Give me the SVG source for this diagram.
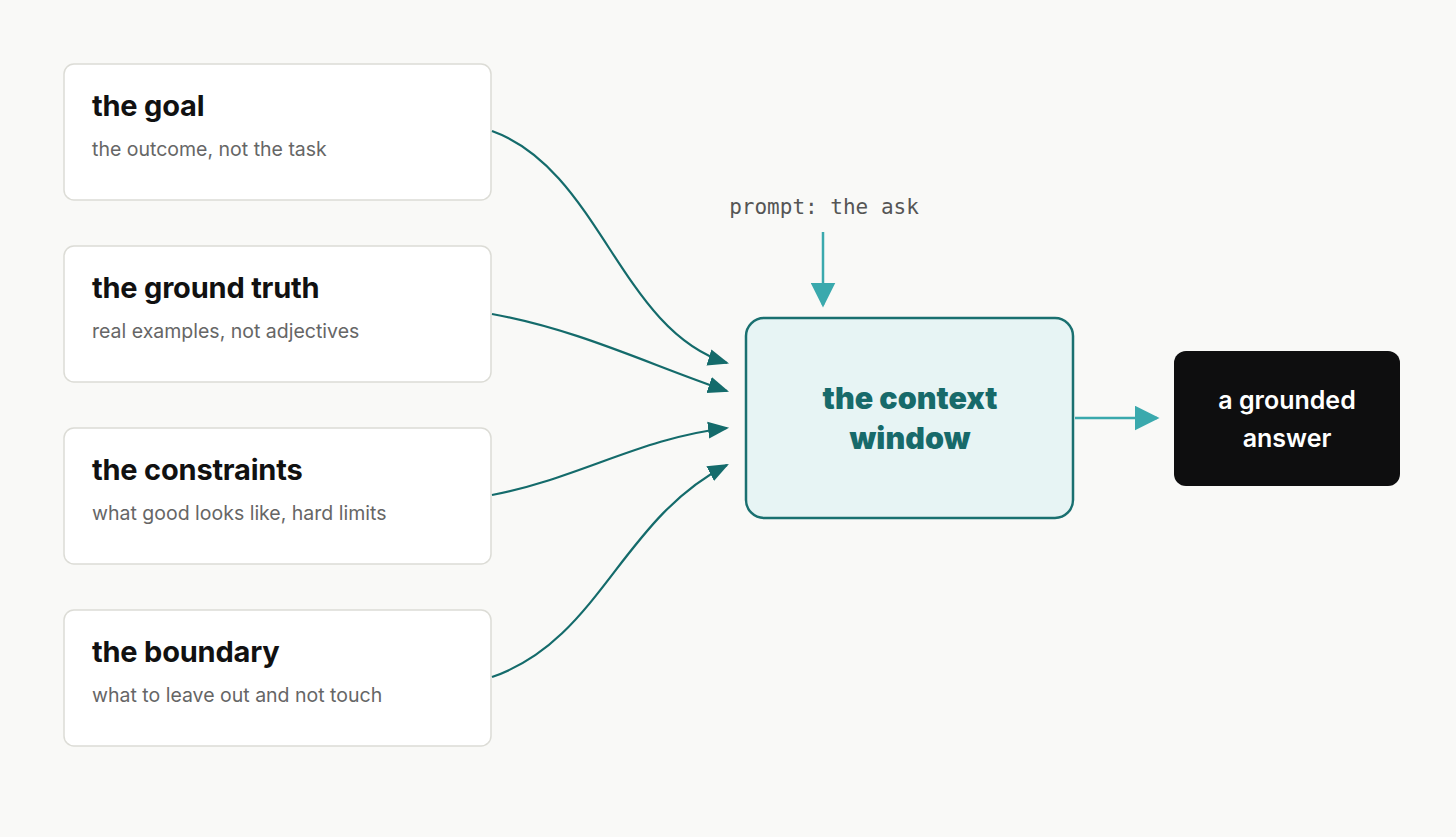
<svg xmlns="http://www.w3.org/2000/svg" width="1456" height="837" viewBox="0 0 1456 837">
<style>
.card{fill:#fff;stroke:#dcdcd6;stroke-width:1.5}
.t{font-family:Inter,"Liberation Sans",sans-serif;font-weight:700;font-size:29px;fill:#111;letter-spacing:-0.2px}
.s{font-family:Inter,"Liberation Sans",sans-serif;font-size:19.5px;fill:#666}
.c{fill:none;stroke:#146b6b;stroke-width:2.2}
</style>
<defs>
<marker id="b" viewBox="0 0 10 10" refX="9" refY="5" markerWidth="25" markerHeight="25" orient="auto" markerUnits="userSpaceOnUse"><path d="M0,0L10,5L0,10z" fill="#3aa9ad"/></marker>
<marker id="a2" viewBox="0 0 10 10" refX="9" refY="5" markerWidth="21" markerHeight="21" orient="auto" markerUnits="userSpaceOnUse"><path d="M0,1L10,5L0,9z" fill="#146b6b"/></marker>
</defs>
<rect width="1456" height="837" fill="#f9f9f7"/>
<g id="goal"><rect class="card" x="64" y="64" width="427" height="136" rx="10"/><text class="t" x="92" y="116">the goal</text><text class="s" x="92" y="156">the outcome, not the task</text></g>
<g id="truth"><rect class="card" x="64" y="246" width="427" height="136" rx="10"/><text class="t" x="92" y="298">the ground truth</text><text class="s" x="92" y="338">real examples, not adjectives</text></g>
<g id="constraints"><rect class="card" x="64" y="428" width="427" height="136" rx="10"/><text class="t" x="92" y="480">the constraints</text><text class="s" x="92" y="520">what good looks like, hard limits</text></g>
<g id="boundary"><rect class="card" x="64" y="610" width="427" height="136" rx="10"/><text class="t" x="92" y="662">the boundary</text><text class="s" x="92" y="702">what to leave out and not touch</text></g>
<g id="prompt"><text x="824" y="214" text-anchor="middle" font-family="'DejaVu Sans Mono','Liberation Mono',monospace" font-size="21" fill="#555">prompt: the ask</text></g>
<g id="context"><rect x="746" y="318" width="327" height="200" rx="18" fill="#e7f4f4" stroke="#1a7070" stroke-width="2.5"/><text x="910" y="409" text-anchor="middle" font-family="Inter,'Liberation Sans',sans-serif" font-weight="900" font-size="30.5" fill="#176a6a">the context</text><text x="910" y="449" text-anchor="middle" font-family="Inter,'Liberation Sans',sans-serif" font-weight="900" font-size="30.5" fill="#176a6a">window</text></g>
<g id="answer"><rect x="1174" y="351" width="226" height="135" rx="12" fill="#0e0e0f"/><text x="1287" y="409" text-anchor="middle" font-family="Inter,'Liberation Sans',sans-serif" font-weight="600" font-size="25" fill="#fff">a grounded</text><text x="1287" y="447" text-anchor="middle" font-family="Inter,'Liberation Sans',sans-serif" font-weight="600" font-size="25" fill="#fff">answer</text></g>
<g id="connectors">
<path class="c" marker-end="url(#a2)" d="M492,131 C600,170 620,330 727,363"/>
<path class="c" marker-end="url(#a2)" d="M492,314 C580,330 650,365 727,391"/>
<path class="c" marker-end="url(#a2)" d="M492,495 C580,478 640,438 727,428"/>
<path class="c" marker-end="url(#a2)" d="M492,677 C600,640 620,520 727,465"/>
<path d="M823,232 L823,305" fill="none" stroke="#3aa9ad" stroke-width="2.5" marker-end="url(#b)"/>
<path d="M1075,418 L1157,418" fill="none" stroke="#3aa9ad" stroke-width="2.5" marker-end="url(#b)"/>
</g>
</svg>
